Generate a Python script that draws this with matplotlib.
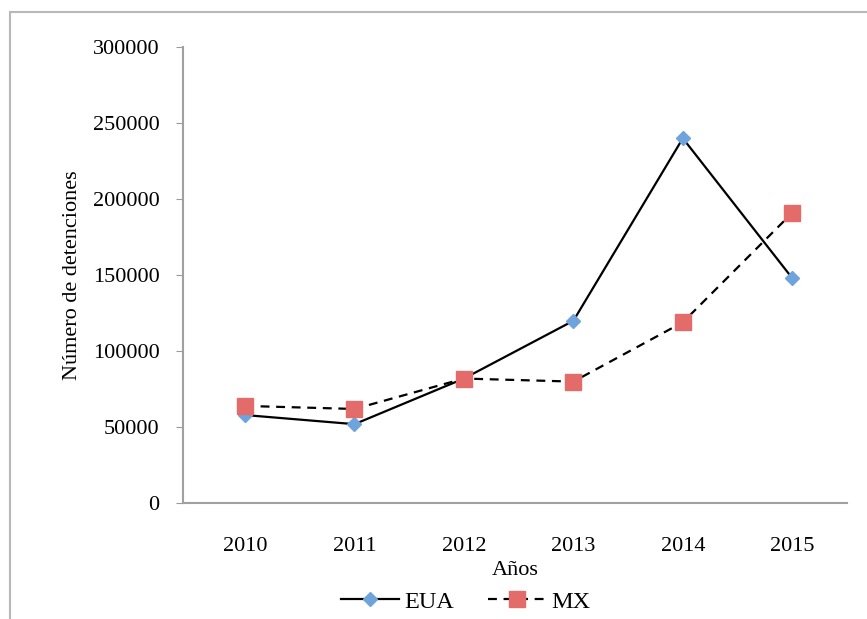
import matplotlib as mpl
mpl.use('Agg')
import matplotlib.pyplot as plt
from matplotlib.patches import Rectangle

plt.rcParams['font.family'] = ['Liberation Serif', 'DejaVu Serif']

years = ['2010', '2011', '2012', '2013', '2014', '2015']
eua = [58000, 52000, 82000, 120000, 240000, 148000]
mx = [64000, 62000, 82000, 80000, 119000, 191000]

fig = plt.figure(figsize=(8.67, 6.19), dpi=100)
ax = fig.add_axes([183/867, 0.187, 664/867, 0.737])

# marco exterior gris
fig.patches.append(Rectangle((10/867, -0.1), 1.0, 1 - 12/619 + 0.1,
                             transform=fig.transFigure, fill=False,
                             edgecolor='#b8b8b8', linewidth=1.5))

x = range(len(years))
ax.plot(x, eua, color='black', linewidth=1.6, marker='D', markersize=7,
        markerfacecolor='#6ea3dc', markeredgecolor='#6ea3dc', label='EUA')
ax.plot(x, mx, color='black', linewidth=1.6, linestyle=(0, (4, 3)), marker='s',
        markersize=11, markerfacecolor='#e36c6a', markeredgecolor='#e36c6a',
        label='MX')

ax.set_xlim(-0.567, 5.5)
ax.set_ylim(0, 300000)
ax.set_yticks(range(0, 300001, 50000))
ax.set_xticks(list(x))
ax.set_xticklabels(years)
ax.tick_params(axis='x', length=0, pad=24, labelsize=16)
ax.tick_params(axis='y', length=5, color='#999999', pad=12, labelsize=16)
for s in ['top', 'right']:
    ax.spines[s].set_visible(False)
for s in ['left', 'bottom']:
    ax.spines[s].set_color('#a0a0a0')
    ax.spines[s].set_linewidth(1.5)

ax.set_ylabel('Número de detenciones', fontsize=16, labelpad=8)
ax.set_xlabel('Años', fontsize=16, labelpad=4)

fig.legend(loc='center', bbox_to_anchor=(0.537, 0.028), ncol=2, frameon=False,
           fontsize=17.5, handlelength=2.4, columnspacing=1.4, handletextpad=0.2)

fig.savefig('out.png', dpi=100)
